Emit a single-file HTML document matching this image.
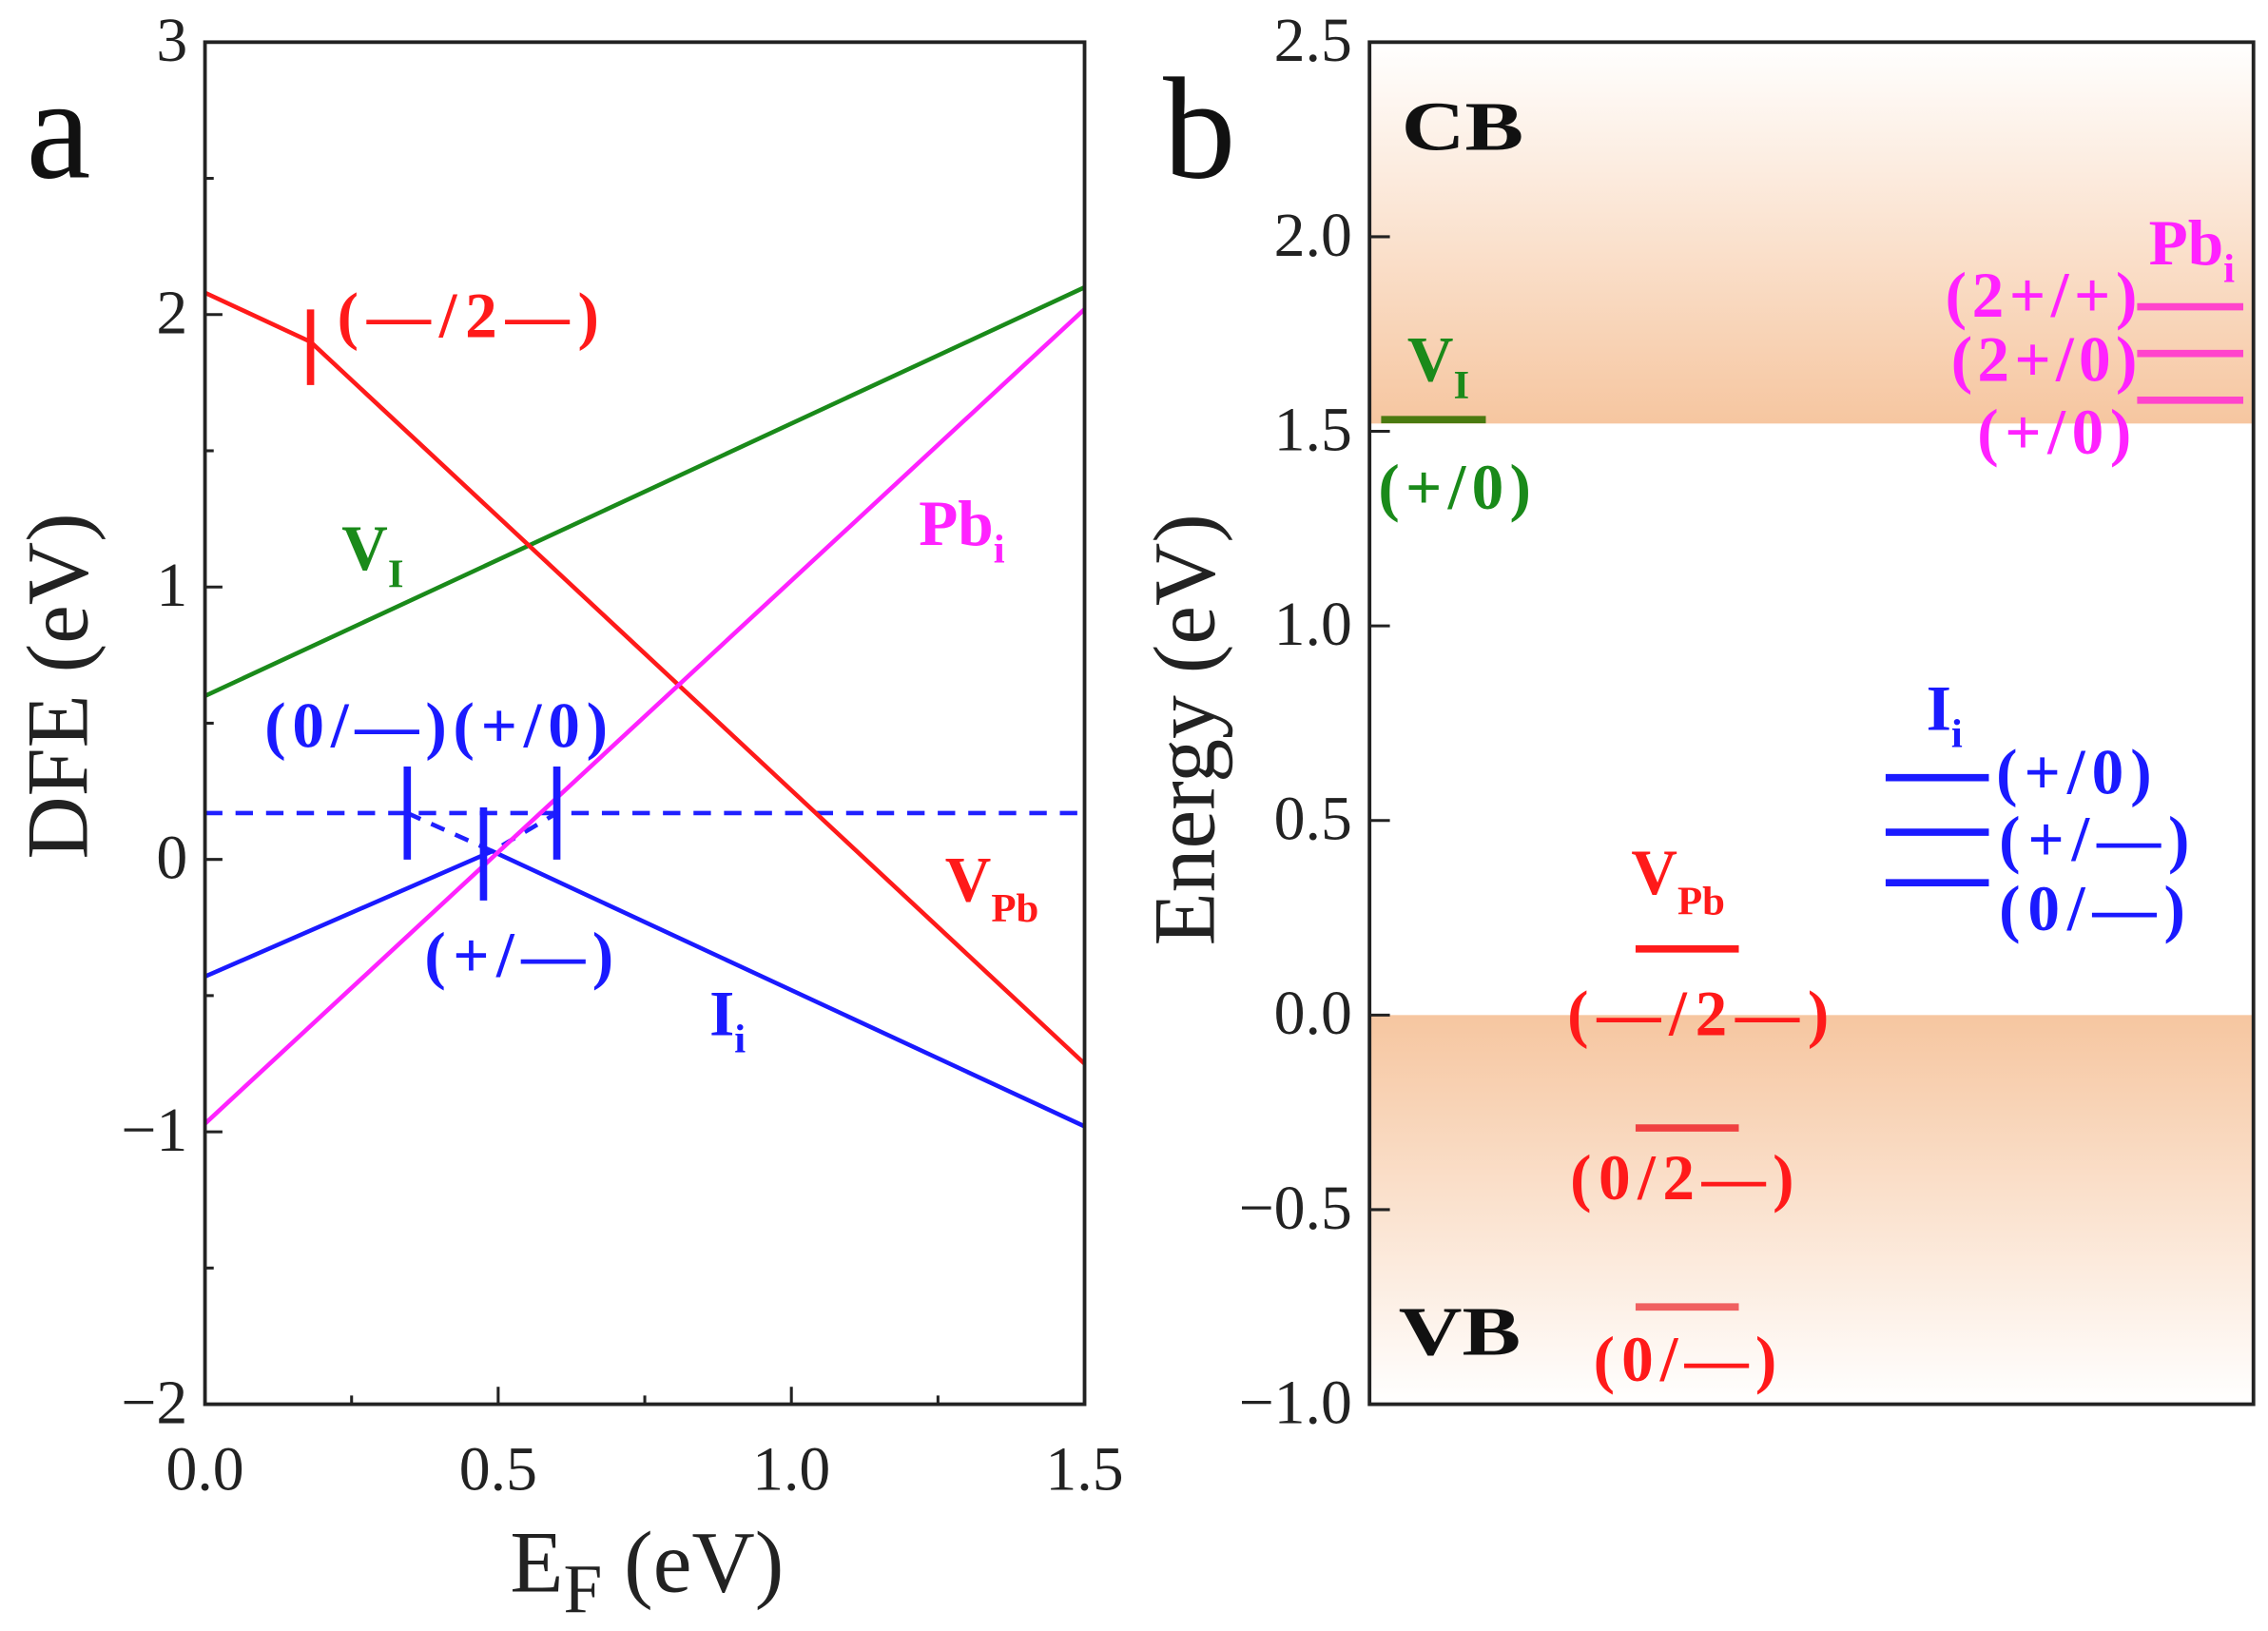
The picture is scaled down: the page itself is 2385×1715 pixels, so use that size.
<!DOCTYPE html>
<html><head><meta charset="utf-8"><style>
html,body{margin:0;padding:0;background:#fff;}
svg{display:block;font-family:"Liberation Serif",serif;}
</style></head><body>
<svg width="2385" height="1715" viewBox="0 0 1560 1122" preserveAspectRatio="none" xmlns="http://www.w3.org/2000/svg">
<defs>
<linearGradient id="cb" x1="0" y1="1" x2="0" y2="0"><stop offset="0" stop-color="#f6c6a0"/><stop offset="1" stop-color="#ffffff"/></linearGradient>
<linearGradient id="vb" x1="0" y1="0" x2="0" y2="1"><stop offset="0" stop-color="#f6c6a0"/><stop offset="1" stop-color="#ffffff"/></linearGradient>
</defs>
<g id="pa"></g>
<g id="pb"></g>
</svg>
<script>
const NS="http://www.w3.org/2000/svg";
// Panel a data
const xTicksA=[0,0.5,1.0,1.5];
const xTickLabelsA=["0.0","0.5","1.0","1.5"];
const yTicksA=[-2,-1,0,1,2,3];
const yTickLabelsA=["\u22122","\u22121","0","1","2","3"];
const vpbX=[0,0.18,1.5], vpbY=[2.08,1.9,-0.75];
const viX=[0,1.5], viY=[0.6,2.1];
const pbiX=[0,1.5], pbiY=[-0.97,2.02];
const iiX=[0,0.49,1.5], iiY=[-0.43,0.03,-0.98];
const iiDashX=[0,1.5], iiDashY=[0.17,0.17];
const iiDiagX=[0.345,0.49,0.6], iiDiagY=[0.17,0.03,0.17];
const trans1X=[0.18], trans1Y=[1.88];
const transIiX=[0.345,0.475,0.6], transIiY=[0.17,0.02,0.17];
// Panel b data
const yTicksB=[-1,-0.5,0,0.5,1,1.5,2,2.5];
const yTickLabelsB=["\u22121.0","\u22120.5","0.0","0.5","1.0","1.5","2.0","2.5"];
const gap=1.52;
const viLevels=[1.53];
const pbiLevels=[1.82,1.70,1.58];
const iiLevels=[0.61,0.47,0.34];
const vpbLevels=[0.17,-0.29,-0.75];

function el(tag,attrs,parent,text){const e=document.createElementNS(NS,tag);for(const k in attrs)e.setAttribute(k,attrs[k]);if(text!==undefined)e.textContent=text;parent.appendChild(e);return e;}
const pa=document.getElementById('pa'), pb=document.getElementById('pb');
const AX0=141,AX1=746,AY0=29,AY1=966;
const xa=v=>AX0+(v-0)/1.5*(AX1-AX0);
const ya=v=>AY1-(v+2)/5*(AY1-AY0);
function poly(xs,ys,color,w,dash,name){const pts=xs.map((x,i)=>xa(x)+","+ya(ys[i])).join(" ");const p=el('polyline',{points:pts,fill:'none',stroke:color,'stroke-width':w},pa);if(dash)p.setAttribute('stroke-dasharray',dash);

return p;}
poly(iiDashX,iiDashY,'#2020ff',3,'12,9','ii-dashed-line');
poly(iiDiagX,iiDiagY,'#2020ff',3,'10,8','ii-dashed-diagonal');
poly(viX,viY,'#1a8a1a',3,null,'vi-line');
poly(vpbX,vpbY,'#ff1a1a',3,null,'vpb-line');
poly(iiX,iiY,'#1a1aff',3,null,'ii-line');
poly(pbiX,pbiY,'#ff22ff',3,null,'pbi-line');
trans1X.forEach((x,i)=>{const l=el('line',{x1:xa(x),x2:xa(x),y1:ya(trans1Y[i])-26,y2:ya(trans1Y[i])+26,stroke:'#ff1a1a','stroke-width':5},pa);

});
transIiX.forEach((x,i)=>{const l=el('line',{x1:xa(x),x2:xa(x),y1:ya(transIiY[i])-32,y2:ya(transIiY[i])+32,stroke:'#1a1aff','stroke-width':5},pa);

});
el('rect',{x:AX0,y:AY0,width:AX1-AX0,height:AY1-AY0,fill:'none',stroke:'#222','stroke-width':2.5},pa);
xTicksA.forEach((v,i)=>{el('line',{x1:xa(v),x2:xa(v),y1:AY1,y2:AY1-12,stroke:'#222','stroke-width':2},pa);
if(i<xTicksA.length-1)el('line',{x1:xa(v+0.25),x2:xa(v+0.25),y1:AY1,y2:AY1-6,stroke:'#222','stroke-width':2},pa);
const t=el('text',{x:xa(v),y:1025,'text-anchor':'middle','font-size':43,fill:'#222'},pa,xTickLabelsA[i]);

});
yTicksA.forEach((v,i)=>{el('line',{x1:AX0,x2:AX0+12,y1:ya(v),y2:ya(v),stroke:'#222','stroke-width':2},pa);
if(v<3)el('line',{x1:AX0,x2:AX0+6,y1:ya(v+0.5),y2:ya(v+0.5),stroke:'#222','stroke-width':2},pa);
const t=el('text',{x:AX0-12,y:ya(v)+13,'text-anchor':'end','font-size':43,fill:'#222'},pa,yTickLabelsA[i]);

});
const BX0=942,BX1=1550,BY0=29,BY1=966;
const yb=v=>BY1-(v+1)/3.5*(BY1-BY0);
const r1=el('rect',{x:BX0,y:BY0,width:BX1-BX0,height:yb(gap)-BY0,fill:'url(#cb)'},pb);

const r2=el('rect',{x:BX0,y:yb(0),width:BX1-BX0,height:BY1-yb(0),fill:'url(#vb)'},pb);

function levels(arr,x0,x1,colors,name){arr.forEach((v,i)=>{const l=el('line',{x1:x0,x2:x1,y1:yb(v),y2:yb(v),stroke:colors[i],'stroke-width':5},pb);

});}
levels(viLevels,950,1022,['#4a7a10'],'vi-level');
levels(pbiLevels,1470,1543,['#ff44cc','#ff44cc','#ff44cc'],'pbi-level');
levels(iiLevels,1297,1368,['#1a1aff','#1a1aff','#1a1aff'],'ii-level');
levels(vpbLevels,1125,1196,['#ff1a1a','#f04040','#f06060'],'vpb-level');
el('rect',{x:BX0,y:BY0,width:BX1-BX0,height:BY1-BY0,fill:'none',stroke:'#222','stroke-width':2.5},pb);
yTicksB.forEach((v,i)=>{el('line',{x1:BX0,x2:BX0+14,y1:yb(v),y2:yb(v),stroke:'#222','stroke-width':2},pb);
const t=el('text',{x:BX0-12,y:yb(v)+13,'text-anchor':'end','font-size':43,fill:'#222'},pb,yTickLabelsB[i]);

});
</script>
<svg style="position:absolute;left:0;top:0" width="2385" height="1715" viewBox="0 0 1560 1122" preserveAspectRatio="none" xmlns="http://www.w3.org/2000/svg" font-family="Liberation Serif, serif">
<text x="18" y="122" font-size="100" fill="#111">a</text>
<text x="800" y="122" font-size="100" fill="#111">b</text>
<text x="445" y="1095" text-anchor="middle" font-size="60" fill="#222">E<tspan dy="14" font-size="48">F</tspan><tspan dy="-14"> (eV)</tspan></text>
<text transform="translate(60,472) rotate(-90)" text-anchor="middle" font-size="60" fill="#222">DFE (eV)</text>
<text transform="translate(835,502) rotate(-90)" text-anchor="middle" font-size="60" fill="#222">Energy (eV)</text>
<g font-weight="bold" font-size="44">
<text x="232" y="232" fill="#ff1a1a" textLength="180" lengthAdjust="spacing">(—/2—)</text>
<text x="235" y="392" fill="#1a8a1a">V<tspan dy="12" font-size="28">I</tspan></text>
<text x="632" y="375" fill="#ff22ff">Pb<tspan dy="12" font-size="28">i</tspan></text>
<text x="650" y="620" fill="#ff1a1a">V<tspan dy="14" font-size="28">Pb</tspan></text>
<text x="488" y="712" fill="#1a1aff">I<tspan dy="12" font-size="28">i</tspan></text>
<text x="182" y="514" fill="#1a1aff" textLength="236" lengthAdjust="spacing">(0/—)(+/0)</text>
<text x="292" y="672" fill="#1a1aff" textLength="130" lengthAdjust="spacing">(+/—)</text>
<text x="964" y="103" fill="#111" font-size="48" textLength="84" lengthAdjust="spacingAndGlyphs">CB</text>
<text x="962" y="932" fill="#111" font-size="48" textLength="84" lengthAdjust="spacingAndGlyphs">VB</text>
<text x="968" y="262" fill="#1a8a1a">V<tspan dy="12" font-size="28">I</tspan></text>
<text x="948" y="350" fill="#1a8a1a" textLength="105" lengthAdjust="spacing">(+/0)</text>
<text x="1478" y="182" fill="#ff22ff">Pb<tspan dy="12" font-size="28">i</tspan></text>
<text x="1338" y="218" fill="#ff22ff" textLength="132" lengthAdjust="spacing">(2+/+)</text>
<text x="1342" y="262" fill="#ff22ff" textLength="128" lengthAdjust="spacing">(2+/0)</text>
<text x="1360" y="312" fill="#ff22ff" textLength="106" lengthAdjust="spacing">(+/0)</text>
<text x="1325" y="502" fill="#1a1aff">I<tspan dy="12" font-size="28">i</tspan></text>
<text x="1373" y="546" fill="#1a1aff" textLength="107" lengthAdjust="spacing">(+/0)</text>
<text x="1375" y="592" fill="#1a1aff" textLength="131" lengthAdjust="spacing">(+/—)</text>
<text x="1375" y="640" fill="#1a1aff" textLength="128" lengthAdjust="spacing">(0/—)</text>
<text x="1122" y="615" fill="#ff1a1a">V<tspan dy="14" font-size="28">Pb</tspan></text>
<text x="1078" y="712" fill="#ff1a1a" textLength="180" lengthAdjust="spacing">(—/2—)</text>
<text x="1080" y="825" fill="#ff1a1a" textLength="154" lengthAdjust="spacing">(0/2—)</text>
<text x="1096" y="950" fill="#ff1a1a" textLength="126" lengthAdjust="spacing">(0/—)</text>
</g>
</svg>
</body></html>
